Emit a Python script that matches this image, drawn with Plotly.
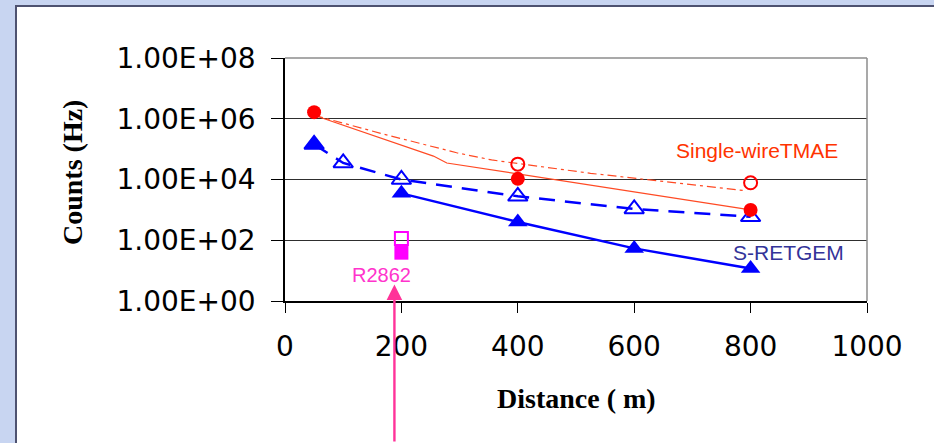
import plotly.graph_objects as go

# ---- data -------------------------------------------------------------
# Single-wire TMAE: measured points
tmae_x = [50, 400, 800]
tmae_y = [1.65e6, 1.05e4, 1.0e3]
tmae_open_x = [400, 800]
tmae_open_y = [3.2e4, 7.8e3]

# Single-wire TMAE: trend lines
tmae_line_x = [50, 255, 278, 800]
tmae_line_y = [1.3e6, 5.9e4, 3.5e4, 1.0e3]
tmae_dd_x = [50, 170, 295, 355, 525, 790]
tmae_dd_y = [1.3e6, 3.1e5, 7.6e4, 4.4e4, 1.6e4, 4.3e3]

# S-RETGEM
gem_open_x = [50, 100, 200, 400, 600, 800]
gem_open_y = [1.43e5, 3.5e4, 1.0e4, 2.8e3, 1.07e3, 5.9e2]
gem_x = [50, 100, 200, 400, 600, 800]
gem_y = [1.43e5, None, 3.5e3, 4.0e2, 54, 11.7]

# R2862
pmt_x = [200]
pmt_open_y = [114]
pmt_fill_y = [39]
arrow_x = 188
arrow_y = 3.5

y_ticks = [1, 1e2, 1e4, 1e6, 1e8]
y_ticktext = ["1.00E+00", "1.00E+02", "1.00E+04", "1.00E+06", "1.00E+08"]
x_ticks = [0, 200, 400, 600, 800, 1000]

RED = "#FF0000"
THIN = "#FF4A24"
BLUE = "#0000FF"
MAG = "#FF00FF"

fig = go.Figure()

fig.add_trace(go.Scatter(x=tmae_dd_x, y=tmae_dd_y, mode="lines",
                         line=dict(color=THIN, width=1.2, dash="9px,4px,3px,4px"),
                         showlegend=False))
fig.add_trace(go.Scatter(x=tmae_line_x, y=tmae_line_y, mode="lines",
                         line=dict(color=THIN, width=1.2), showlegend=False))

fig.add_trace(go.Scatter(x=gem_open_x, y=gem_open_y, mode="lines+markers",
                         line=dict(color=BLUE, width=2.5, dash="16px,10px"),
                         marker=dict(symbol="triangle-up-open", size=17, color=BLUE,
                                     line=dict(width=2, color=BLUE)),
                         showlegend=False))
fig.add_trace(go.Scatter(x=gem_x, y=gem_y, mode="lines+markers", connectgaps=False,
                         line=dict(color=BLUE, width=2.5),
                         marker=dict(symbol="triangle-up", size=17, color=BLUE),
                         showlegend=False))

fig.add_trace(go.Scatter(x=pmt_x, y=pmt_open_y, mode="markers",
                         marker=dict(symbol="square-open", size=13, color=MAG,
                                     line=dict(width=2, color=MAG)),
                         showlegend=False))
fig.add_trace(go.Scatter(x=pmt_x, y=pmt_fill_y, mode="markers",
                         marker=dict(symbol="square", size=14, color=MAG),
                         showlegend=False))

fig.add_trace(go.Scatter(x=tmae_open_x, y=tmae_open_y, mode="markers",
                         marker=dict(symbol="circle-open", size=13, color=RED,
                                     line=dict(width=2, color=RED)),
                         showlegend=False))
fig.add_trace(go.Scatter(x=tmae_x, y=tmae_y, mode="markers",
                         marker=dict(symbol="circle", size=14, color=RED),
                         showlegend=False))

# slide panel behind the chart, plus the gray frame on top/right of the plot
plot_l, plot_r, plot_t, plot_b = 285, 867, 58, 301
pw, ph = plot_r - plot_l, plot_b - plot_t
px = lambda v: (v - plot_l) / pw
py = lambda v: (plot_b - v) / ph

shapes = [
    dict(type="rect", xref="paper", yref="paper", layer="below",
         x0=px(16), x1=px(960), y0=py(470), y1=py(6),
         fillcolor="white", line=dict(color="#4E5270", width=2)),
    dict(type="line", xref="paper", yref="paper", x0=0, x1=1, y0=1, y1=1,
         line=dict(color="#8C8C8C", width=1.5)),
    dict(type="line", xref="paper", yref="paper", x0=1, x1=1, y0=0, y1=1,
         line=dict(color="#8C8C8C", width=1.5)),
]

annotations = [
    dict(x=811, y=4.94, xref="x", yref="y", text="Single-wireTMAE", showarrow=False,
         font=dict(family="Liberation Sans", size=21, color="#FF3300")),
    dict(x=865, y=1.60, xref="x", yref="y", text="S-RETGEM", showarrow=False,
         font=dict(family="Liberation Sans", size=21, color="#333399")),
    dict(x=166, y=0.84, xref="x", yref="y", text="R2862", showarrow=False,
         font=dict(family="Liberation Sans", size=20, color="#FF33CC")),
    dict(x=arrow_x, y=0.544, xref="x", yref="y", text="", showarrow=True,
         axref="pixel", ayref="pixel", ax=0, ay=190,
         arrowhead=2, arrowsize=1.3, arrowwidth=2.4, arrowcolor="#FF3399", standoff=0),
    dict(x=px(576), y=py(398), xref="paper", yref="paper", text="Distance ( m)",
         showarrow=False, xanchor="center", yanchor="middle",
         font=dict(family="Liberation Serif", size=28, color="black", weight="bold")),
    dict(x=px(72), y=py(173), xref="paper", yref="paper", text="Counts (Hz)",
         showarrow=False, textangle=-90, xanchor="center", yanchor="middle",
         font=dict(family="Liberation Serif", size=28, color="black", weight="bold")),
]

fig.update_layout(
    width=934, height=443,
    margin=dict(l=plot_l, r=934 - plot_r, t=plot_t, b=443 - plot_b, autoexpand=False),
    paper_bgcolor="#C8D5F1",
    plot_bgcolor="white",
    shapes=shapes,
    annotations=annotations,
    showlegend=False,
)

fig.update_xaxes(range=[0, 1000], tickvals=x_ticks, ticks="outside", ticklen=10,
                 tickcolor="black", showline=True, linecolor="black", linewidth=1.5,
                 showgrid=False, zeroline=False, ticklabelstandoff=10,
                 tickfont=dict(family="DejaVu Sans", size=28, color="black"))
fig.update_yaxes(type="log", range=[0, 8], tickvals=y_ticks, ticktext=y_ticktext,
                 ticks="outside", ticklen=12, tickcolor="black", showline=True,
                 linecolor="black", linewidth=1.5, showgrid=True, gridcolor="#2E2E2E",
                 gridwidth=1, zeroline=False, ticklabelstandoff=10,
                 tickfont=dict(family="DejaVu Sans", size=28, color="black"))

fig.write_html("out.html")
